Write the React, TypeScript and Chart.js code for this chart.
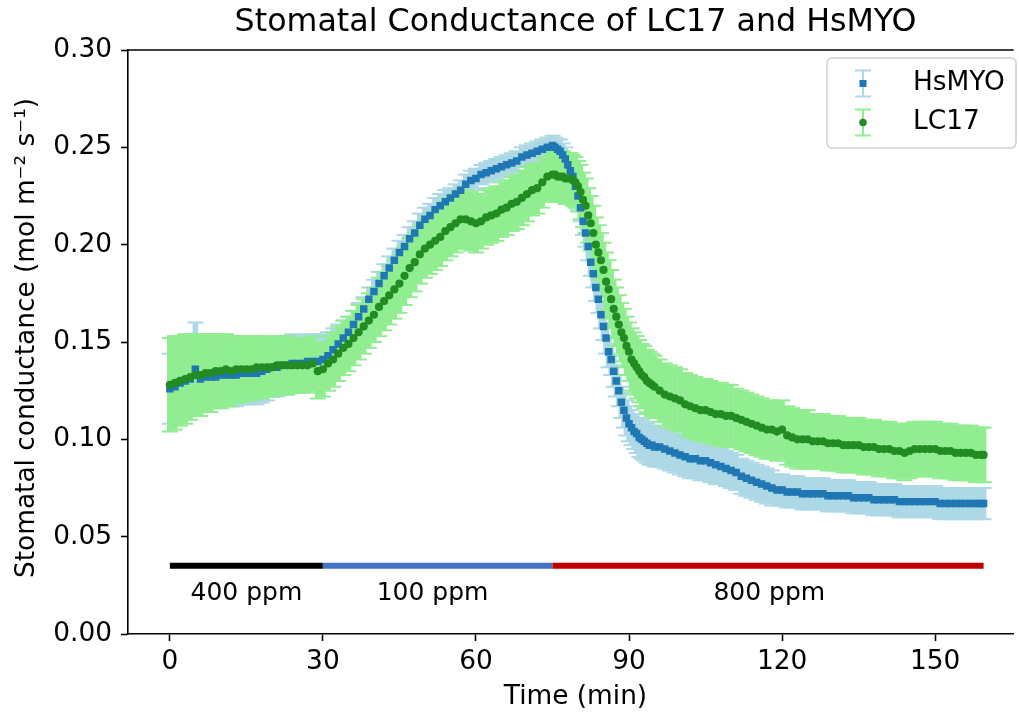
import React, { useEffect, useRef } from 'react';
import { Chart, registerables } from 'chart.js';
Chart.register(...registerables);

// ---------------- data ----------------
const times = [
  0, 1, 2, 3, 4, 5, 6, 7, 8, 9, 10, 11, 12, 13, 14, 15, 16, 17, 18, 19, 20, 21, 22, 23, 24, 25, 26, 27, 28, 29, 30,
  31, 32, 33, 34, 35, 36, 37, 38, 39, 40, 41, 42, 43, 44, 45, 46, 47, 48, 49, 50, 51, 52, 53, 54, 55, 56, 57, 58, 59, 60,
  61, 62, 63, 64, 65, 66, 67, 68, 69, 70, 71, 72, 73, 74, 75,
  75.5, 76, 76.5, 77, 77.5, 78, 78.5, 79, 79.5, 80, 80.5, 81, 81.5, 82, 82.5, 83, 83.5, 84, 84.5, 85,
  85.5, 86, 86.5, 87, 87.5, 88, 88.5, 89, 89.5, 90, 90.5, 91, 91.5, 92, 92.5, 93, 93.5, 94, 94.5, 95,
  96, 97, 98, 99, 100, 101, 102, 103, 104, 105, 106, 107, 108, 109, 110, 111, 112, 113, 114, 115,
  116, 117, 118, 119, 120, 121, 122, 123, 124, 125, 126, 127, 128, 129, 130, 131, 132, 133, 134, 135,
  136, 137, 138, 139, 140, 141, 142, 143, 144, 145, 146, 147, 148, 149, 150, 151, 152, 153, 154, 155,
  156, 157, 158, 159, 159.5,
];

const hsmyoMean = [
  0.126, 0.127, 0.129, 0.130, 0.131, 0.136, 0.131, 0.132, 0.132, 0.132, 0.133, 0.133, 0.133, 0.133, 0.134, 0.134,
  0.134, 0.134, 0.135, 0.136, 0.137, 0.137, 0.138, 0.138, 0.139, 0.139, 0.139, 0.140, 0.140, 0.140, 0.141,
  0.143, 0.146, 0.149, 0.152, 0.155, 0.159, 0.163, 0.167, 0.172, 0.176, 0.180, 0.184, 0.188, 0.192, 0.196,
  0.199, 0.203, 0.206, 0.210, 0.213, 0.215, 0.218, 0.220, 0.222, 0.224, 0.226, 0.228, 0.231, 0.233, 0.234,
  0.236, 0.237, 0.238, 0.239, 0.240, 0.241, 0.242, 0.243, 0.245, 0.246, 0.247, 0.248, 0.249, 0.250, 0.251,
  0.250, 0.249, 0.248, 0.246, 0.244, 0.241, 0.238, 0.235, 0.230, 0.225, 0.219, 0.212, 0.206, 0.199, 0.191,
  0.185, 0.178, 0.172, 0.164, 0.158, 0.152, 0.145, 0.141, 0.135, 0.130, 0.125, 0.119, 0.115, 0.111, 0.108,
  0.106, 0.104, 0.103, 0.101, 0.100, 0.099, 0.098, 0.097, 0.097, 0.096,
  0.096, 0.095, 0.094, 0.093, 0.092, 0.091, 0.090, 0.090, 0.089, 0.089, 0.088, 0.087, 0.086, 0.085, 0.084,
  0.083, 0.081, 0.080, 0.079, 0.078, 0.077, 0.076, 0.075, 0.074, 0.074, 0.073, 0.073, 0.073, 0.072, 0.072,
  0.072, 0.072, 0.072, 0.071, 0.071, 0.071, 0.071, 0.071, 0.070, 0.070, 0.070, 0.070, 0.069, 0.069, 0.069,
  0.069, 0.069, 0.068, 0.068, 0.068, 0.068, 0.068, 0.068, 0.068, 0.068, 0.067, 0.067, 0.067, 0.067, 0.067,
  0.067, 0.067, 0.067, 0.067, 0.067,
];

const hsmyoErr = [
  0.018, 0.017, 0.017, 0.017, 0.016, 0.024, 0.016, 0.016, 0.016, 0.016, 0.016, 0.016, 0.016, 0.016, 0.016, 0.016,
  0.016, 0.016, 0.016, 0.016, 0.015, 0.015, 0.015, 0.015, 0.015, 0.014, 0.014, 0.014, 0.014, 0.013, 0.013,
  0.012, 0.011, 0.010, 0.009, 0.008, 0.007, 0.007, 0.006, 0.006, 0.006, 0.006, 0.006, 0.006, 0.006, 0.006,
  0.006, 0.006, 0.006, 0.006, 0.006, 0.006, 0.006, 0.006, 0.006, 0.005, 0.005, 0.005, 0.005, 0.005, 0.005,
  0.005, 0.005, 0.005, 0.005, 0.005, 0.005, 0.005, 0.005, 0.005, 0.005, 0.005, 0.005, 0.005, 0.005, 0.005,
  0.005, 0.005, 0.006, 0.006, 0.006, 0.006, 0.007, 0.007, 0.007, 0.007, 0.007, 0.007, 0.007, 0.007, 0.007,
  0.007, 0.007, 0.007, 0.007, 0.007, 0.008, 0.008, 0.008, 0.008, 0.008, 0.008, 0.008, 0.009, 0.009, 0.009,
  0.009, 0.009, 0.010, 0.010, 0.010, 0.010, 0.010, 0.010, 0.010, 0.010,
  0.010, 0.010, 0.010, 0.010, 0.010, 0.010, 0.010, 0.010, 0.010, 0.010, 0.010, 0.010, 0.009, 0.009, 0.009,
  0.009, 0.009, 0.009, 0.009, 0.009, 0.009, 0.009, 0.009, 0.008, 0.008, 0.008, 0.008, 0.008, 0.008, 0.008,
  0.008, 0.008, 0.008, 0.008, 0.008, 0.008, 0.008, 0.008, 0.008, 0.008, 0.008, 0.008, 0.008, 0.008, 0.008,
  0.008, 0.008, 0.008, 0.008, 0.008, 0.008, 0.008, 0.008, 0.008, 0.008, 0.008, 0.008, 0.008, 0.008, 0.008,
  0.008, 0.008, 0.008, 0.008, 0.008,
];

const lc17Mean = [
  0.128, 0.129, 0.130, 0.131, 0.132, 0.133, 0.133, 0.134, 0.134, 0.135, 0.135, 0.136, 0.135, 0.136, 0.136, 0.136,
  0.136, 0.137, 0.137, 0.137, 0.137, 0.138, 0.138, 0.138, 0.138, 0.138, 0.138, 0.138, 0.139, 0.135, 0.136,
  0.139, 0.141, 0.144, 0.147, 0.149, 0.152, 0.155, 0.158, 0.161, 0.164, 0.168, 0.171, 0.174, 0.177, 0.180,
  0.184, 0.188, 0.191, 0.195, 0.198, 0.200, 0.202, 0.204, 0.207, 0.209, 0.211, 0.213, 0.213, 0.212, 0.211,
  0.212, 0.214, 0.215, 0.216, 0.218, 0.219, 0.221, 0.222, 0.224, 0.226, 0.228, 0.229, 0.232, 0.235, 0.236,
  0.236, 0.235, 0.235, 0.235, 0.234, 0.234, 0.234, 0.233, 0.232, 0.230, 0.227, 0.223, 0.220, 0.215, 0.211,
  0.206, 0.200, 0.196, 0.192, 0.187, 0.181, 0.177, 0.172, 0.167, 0.163, 0.159, 0.155, 0.152, 0.148, 0.145,
  0.141, 0.139, 0.137, 0.135, 0.133, 0.132, 0.130, 0.129, 0.128, 0.127,
  0.125, 0.123, 0.122, 0.121, 0.120, 0.118, 0.117, 0.116, 0.115, 0.115, 0.114, 0.113, 0.113, 0.112, 0.112,
  0.111, 0.110, 0.109, 0.108, 0.107, 0.106, 0.105, 0.105, 0.104, 0.105, 0.102, 0.101, 0.100, 0.100, 0.100,
  0.099, 0.099, 0.099, 0.098, 0.098, 0.098, 0.097, 0.097, 0.097, 0.097, 0.096, 0.096, 0.096, 0.095, 0.095,
  0.095, 0.094, 0.094, 0.093, 0.094, 0.095, 0.095, 0.095, 0.095, 0.095, 0.094, 0.094, 0.094, 0.093, 0.093,
  0.093, 0.093, 0.092, 0.092, 0.092,
];

const lc17Err = [
  0.024, 0.024, 0.023, 0.023, 0.022, 0.021, 0.021, 0.020, 0.020, 0.019, 0.019, 0.018, 0.018, 0.017, 0.017, 0.016,
  0.016, 0.016, 0.016, 0.015, 0.015, 0.015, 0.015, 0.015, 0.014, 0.014, 0.014, 0.014, 0.014, 0.014, 0.014,
  0.014, 0.014, 0.014, 0.014, 0.014, 0.014, 0.014, 0.014, 0.014, 0.014, 0.015, 0.015, 0.015, 0.015, 0.015,
  0.015, 0.015, 0.015, 0.015, 0.015, 0.015, 0.015, 0.015, 0.015, 0.015, 0.015, 0.015, 0.015, 0.015, 0.015,
  0.014, 0.014, 0.014, 0.014, 0.014, 0.014, 0.014, 0.014, 0.014, 0.014, 0.013, 0.013, 0.013, 0.013, 0.013,
  0.013, 0.013, 0.013, 0.013, 0.013, 0.013, 0.013, 0.013, 0.013, 0.013, 0.014, 0.014, 0.014, 0.014, 0.014,
  0.014, 0.014, 0.014, 0.014, 0.014, 0.015, 0.015, 0.015, 0.015, 0.015, 0.015, 0.015, 0.015, 0.015, 0.015,
  0.016, 0.016, 0.016, 0.016, 0.016, 0.016, 0.016, 0.016, 0.016, 0.016,
  0.016, 0.016, 0.016, 0.016, 0.016, 0.016, 0.016, 0.016, 0.016, 0.016, 0.016, 0.016, 0.016, 0.016, 0.016,
  0.015, 0.015, 0.015, 0.015, 0.015, 0.015, 0.015, 0.015, 0.015, 0.015, 0.015, 0.015, 0.015, 0.015, 0.015,
  0.014, 0.014, 0.014, 0.014, 0.014, 0.014, 0.014, 0.014, 0.014, 0.014, 0.014, 0.014, 0.014, 0.014, 0.014,
  0.014, 0.014, 0.014, 0.014, 0.014, 0.014, 0.014, 0.014, 0.014, 0.014, 0.014, 0.014, 0.014, 0.014, 0.014,
  0.014, 0.014, 0.014, 0.014, 0.014,
];

const xTicks = [0, 30, 60, 90, 120, 150];
const yTicks = [0, 0.05, 0.1, 0.15, 0.2, 0.25, 0.3];

const phaseStart = [0, 30, 75];
const phaseEnd = [30, 75, 159.5];
const phaseLabels = ['400 ppm', '100 ppm', '800 ppm'];
const phaseLabelAt = [15, 51.5, 117.5];
const phaseBarLevel = 0.035;
const phaseLabelLevel = 0.021;

const seriesNames = ['HsMYO', 'LC17'];
const titleText = 'Stomatal Conductance of LC17 and HsMYO';
const xTitle = 'Time (min)';
const yTitle = 'Stomatal conductance (mol m\u207B\u00B2 s\u207B\u00B9)';

// ---------------- styles ----------------
const FONT = '"DejaVu Sans", "Liberation Sans", sans-serif';
const MARKER_COLORS = ['#1f77b4', '#228b22'];
const ERR_COLORS = ['#add8e6', '#90ee90'];
const PHASE_COLORS = ['#000000', '#4472c4', '#c00000'];

const errorBarPlugin = {
  id: 'errorBars',
  beforeDatasetsDraw(chart: any) {
    const { ctx, chartArea, scales } = chart;
    const xs = scales.x;
    const ys = scales.y;
    ctx.save();
    ctx.beginPath();
    ctx.rect(chartArea.left, chartArea.top, chartArea.right - chartArea.left, chartArea.bottom - chartArea.top);
    ctx.clip();
    chart.data.datasets.forEach((ds: any) => {
      ctx.fillStyle = ds.errColor;
      ds.data.forEach((p: any, i: number) => {
        const e = ds.errs[i];
        const px = xs.getPixelForValue(p.x);
        const yt = ys.getPixelForValue(p.y + e);
        const yb = ys.getPixelForValue(p.y - e);
        ctx.fillRect(px - 2.8, yt, 5.6, yb - yt);
        ctx.fillRect(px - 8, yt - 1, 16, 2);
        ctx.fillRect(px - 8, yb - 1, 16, 2);
      });
    });
    ctx.restore();
  },
};

const decorPlugin = {
  id: 'decor',
  afterDraw(chart: any) {
    const { ctx, chartArea, scales } = chart;
    const xs = scales.x;
    const ys = scales.y;
    ctx.save();
    // top spine
    ctx.strokeStyle = '#000';
    ctx.lineWidth = 1.6;
    ctx.beginPath();
    ctx.moveTo(chartArea.left - 0.8, chartArea.top);
    ctx.lineTo(chartArea.right, chartArea.top);
    ctx.stroke();

    // phase bars
    const by = ys.getPixelForValue(phaseBarLevel);
    ctx.lineWidth = 6;
    ctx.lineCap = 'butt';
    phaseStart.forEach((s, i) => {
      ctx.strokeStyle = PHASE_COLORS[i];
      ctx.beginPath();
      ctx.moveTo(xs.getPixelForValue(s), by);
      ctx.lineTo(xs.getPixelForValue(phaseEnd[i]), by);
      ctx.stroke();
    });
    ctx.fillStyle = '#000';
    ctx.font = `25px ${FONT}`;
    ctx.textAlign = 'center';
    ctx.textBaseline = 'middle';
    phaseLabels.forEach((lab, i) => {
      ctx.fillText(lab, xs.getPixelForValue(phaseLabelAt[i]), ys.getPixelForValue(phaseLabelLevel));
    });

    // title
    ctx.font = `31.7px ${FONT}`;
    ctx.fillText(titleText, (chartArea.left + 1023) / 2, 23);

    // axis titles
    ctx.font = `26.4px ${FONT}`;
    ctx.fillText(xTitle, (chartArea.left + 1023) / 2, 697);
    ctx.save();
    ctx.translate(27, (chartArea.top + chartArea.bottom) / 2 - 4);
    ctx.rotate(-Math.PI / 2);
    ctx.fillText(yTitle, 0, 0);
    ctx.restore();

    // legend
    const lx = 827, ly = 58, lw = 189, lh = 90;
    ctx.beginPath();
    ctx.roundRect(lx, ly, lw, lh, 5);
    ctx.fillStyle = 'rgba(255,255,255,0.8)';
    ctx.fill();
    ctx.strokeStyle = '#d0d0d0';
    ctx.lineWidth = 1.5;
    ctx.stroke();
    const rows = [83.5, 122.5];
    const hx = 863;
    rows.forEach((ry, i) => {
      ctx.fillStyle = ERR_COLORS[i];
      ctx.fillRect(hx - 1, ry - 13, 2, 26);
      ctx.fillRect(hx - 8, ry - 14, 16, 2);
      ctx.fillRect(hx - 8, ry + 12, 16, 2);
      ctx.fillStyle = MARKER_COLORS[i];
      if (i === 0) {
        ctx.fillRect(hx - 3.5, ry - 3.5, 7, 7);
      } else {
        ctx.beginPath();
        ctx.arc(hx, ry, 3.8, 0, Math.PI * 2);
        ctx.fill();
      }
      ctx.fillStyle = '#000';
      ctx.textAlign = 'left';
      ctx.font = `26.4px ${FONT}`;
      ctx.fillText(seriesNames[i], 913, ry);
    });
    ctx.restore();
  },
};

export default function App() {
  const ref = useRef<HTMLCanvasElement | null>(null);
  useEffect(() => {
    if (!ref.current) return;
    Chart.defaults.font.family = FONT;
    const chart = new Chart(ref.current, {
      type: 'scatter',
      data: {
        datasets: [
          {
            label: seriesNames[0],
            data: times.map((t, i) => ({ x: t, y: hsmyoMean[i] })),
            pointStyle: 'rect',
            pointRadius: 5.3,
            pointBorderWidth: 0,
            backgroundColor: MARKER_COLORS[0],
            borderColor: MARKER_COLORS[0],
            showLine: false,
            order: 2,
            errs: hsmyoErr,
            errColor: ERR_COLORS[0],
          } as any,
          {
            label: seriesNames[1],
            data: times.map((t, i) => ({ x: t, y: lc17Mean[i] })),
            pointStyle: 'circle',
            pointRadius: 4.1,
            pointBorderWidth: 0,
            backgroundColor: MARKER_COLORS[1],
            borderColor: MARKER_COLORS[1],
            showLine: false,
            order: 1,
            errs: lc17Err,
            errColor: ERR_COLORS[1],
          } as any,
        ],
      },
      options: {
        responsive: false,
        animation: false,
        devicePixelRatio: 1,
        layout: { padding: { top: 50, left: 0, right: 0, bottom: 0 } },
        plugins: {
          legend: { display: false },
          tooltip: { enabled: false },
          title: { display: false },
        },
        scales: {
          x: {
            type: 'linear',
            min: -8.2,
            max: 165.4,
            afterBuildTicks: (s: any) => {
              s.ticks = xTicks.map((v) => ({ value: v }));
            },
            afterFit: (s: any) => {
              s.height = 83;
            },
            grid: { drawOnChartArea: false, drawTicks: true, tickLength: 7, tickWidth: 1.6, tickColor: '#000' },
            border: { display: true, color: '#000', width: 1.6 },
            ticks: {
              color: '#000',
              font: { family: FONT, size: 26.4 },
              padding: 5,
              maxRotation: 0,
              autoSkip: false,
              callback: (v: any) => String(v),
            },
          },
          y: {
            type: 'linear',
            min: 0,
            max: 0.3,
            afterBuildTicks: (s: any) => {
              s.ticks = yTicks.map((v) => ({ value: v }));
            },
            afterFit: (s: any) => {
              s.width = 128;
            },
            grid: { drawOnChartArea: false, drawTicks: true, tickLength: 7, tickWidth: 1.6, tickColor: '#000' },
            border: { display: true, color: '#000', width: 1.6 },
            ticks: {
              color: '#000',
              font: { family: FONT, size: 26.4 },
              padding: 9,
              autoSkip: false,
              callback: (v: any) => Number(v).toFixed(2),
            },
          },
        },
      },
      plugins: [errorBarPlugin, decorPlugin],
    });
    return () => chart.destroy();
  }, []);
  return (
    <div style={{ position: 'absolute', left: 0, top: 0, width: 1019, height: 717, background: '#fff' }}>
      <canvas ref={ref} width={1019} height={717} style={{ display: 'block' }} />
    </div>
  );
}
